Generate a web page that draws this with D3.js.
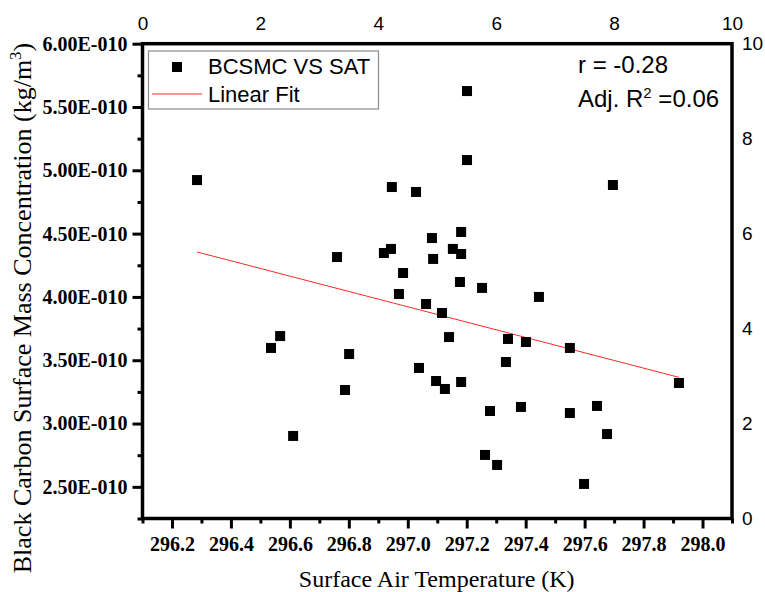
<!DOCTYPE html>
<html>
<head>
<meta charset="utf-8">
<script src="https://cdn.jsdelivr.net/npm/d3@7"></script>
<style>
  body { margin: 0; background: #fff; }
  svg { display: block; }
</style>
</head>
<body>
<div id="chart"></div>
<script>
// surface air temperature (K), one per point
const satValues = [296.285, 296.760, 296.567, 296.536, 296.801, 296.787, 296.611, 297.201, 297.201, 296.946,
    297.028, 297.181, 297.082, 296.943, 296.919, 297.153, 297.181, 297.086, 296.984, 297.177,
    296.970, 297.252, 297.062, 297.445, 297.116, 297.140, 297.038, 297.096, 297.126, 297.181,
    297.340, 297.401, 297.550, 297.333, 297.279, 297.384, 297.550, 297.262, 297.303, 297.696,
    297.920, 297.642, 297.676, 297.598];
// black carbon surface mass concentration (kg/m3)
const bcsmcValues = [4.923e-10, 4.315e-10, 3.691e-10, 3.597e-10, 3.549e-10, 3.265e-10, 2.902e-10, 5.626e-10, 5.081e-10, 4.868e-10,
    4.829e-10, 4.513e-10, 4.465e-10, 4.379e-10, 4.347e-10, 4.379e-10, 4.339e-10, 4.300e-10, 4.189e-10, 4.118e-10,
    4.023e-10, 4.071e-10, 3.944e-10, 4.000e-10, 3.873e-10, 3.683e-10, 3.439e-10, 3.336e-10, 3.273e-10, 3.328e-10,
    3.668e-10, 3.644e-10, 3.597e-10, 3.486e-10, 3.099e-10, 3.131e-10, 3.083e-10, 2.752e-10, 2.673e-10, 4.884e-10,
    3.320e-10, 3.139e-10, 2.917e-10, 2.523e-10];

// linear fit end points
const fitSat = [296.285, 297.920];
const fitBcsmc = [4.355e-10, 3.365e-10];

// tick values
const xMajorTicks = [296.2, 296.4, 296.6, 296.8, 297.0, 297.2, 297.4, 297.6, 297.8, 298.0];
const xMinorTicks = [296.1, 296.3, 296.5, 296.7, 296.9, 297.1, 297.3, 297.5, 297.7, 297.9, 298.1];
const yMajorTicks = [2.5e-10, 3.0e-10, 3.5e-10, 4.0e-10, 4.5e-10, 5.0e-10, 5.5e-10, 6.0e-10];
const yMinorTicks = [2.25e-10, 2.75e-10, 3.25e-10, 3.75e-10, 4.25e-10, 4.75e-10, 5.25e-10, 5.75e-10];
const topTicks = [0, 2, 4, 6, 8, 10];
const rightTicks = [0, 2, 4, 6, 8, 10];

const legendLabels = ['BCSMC VS SAT', 'Linear Fit'];
const statR = 'r = -0.28';
const statAdjR2 = '0.06';

const serif = '"Liberation Serif", "Times New Roman", serif';
const sans = '"Liberation Sans", Arial, sans-serif';

const width = 765, height = 592;
const plot = { left: 142.5, right: 732, top: 43.7, bottom: 518.5 };

const svg = d3.select('#chart')
    .append('svg')
    .attr('width', width)
    .attr('height', height);

const x = d3.scaleLinear().domain([296.1, 298.1]).range([plot.left, plot.right]);
const y = d3.scaleLinear().domain([2.25e-10, 6.0e-10]).range([plot.bottom, plot.top]);
const xTop = d3.scaleLinear().domain([0, 10]).range([plot.left, plot.right]);
const yRight = d3.scaleLinear().domain([0, 10]).range([plot.bottom, plot.top]);

const fmtY = d => (d * 1e10).toFixed(2) + 'E-010';

function styleAxis(g, font, size, weight, lw) {
    g.select('.domain').remove();
    g.selectAll('.tick line').attr('stroke', '#000').attr('stroke-width', lw);
    g.selectAll('.tick text')
        .attr('fill', '#000')
        .style('font-family', font)
        .style('font-size', size + 'px')
        .style('font-weight', weight);
}

// left axis
svg.append('g')
    .attr('transform', `translate(${plot.left},0)`)
    .call(d3.axisLeft(y).tickValues(yMinorTicks).tickSize(5).tickFormat(''))
    .call(g => styleAxis(g, serif, 20, 'bold', 3));
svg.append('g')
    .attr('transform', `translate(${plot.left},0)`)
    .call(d3.axisLeft(y).tickValues(yMajorTicks).tickSize(10).tickPadding(5).tickFormat(fmtY))
    .call(g => styleAxis(g, serif, 20, 'bold', 3));

// bottom axis
svg.append('g')
    .attr('transform', `translate(0,${plot.bottom})`)
    .call(d3.axisBottom(x).tickValues(xMinorTicks).tickSize(5).tickFormat(''))
    .call(g => styleAxis(g, serif, 20, 'bold', 3));
svg.append('g')
    .attr('transform', `translate(0,${plot.bottom})`)
    .call(d3.axisBottom(x).tickValues(xMajorTicks).tickSize(10).tickFormat(d3.format('.1f')))
    .call(g => styleAxis(g, serif, 20, 'bold', 3))
    .call(g => g.selectAll('.tick text').attr('y', 32.5).attr('dy', null));

// top and right axes: labels only
svg.append('g')
    .attr('transform', `translate(0,${plot.top})`)
    .call(d3.axisTop(xTop).tickValues(topTicks).tickSize(0).tickPadding(14))
    .call(g => styleAxis(g, sans, 19, 'normal', 0));
svg.append('g')
    .attr('transform', `translate(${plot.right},0)`)
    .call(d3.axisRight(yRight).tickValues(rightTicks).tickSize(0).tickPadding(10))
    .call(g => styleAxis(g, sans, 19, 'normal', 0));

// frame
svg.append('rect')
    .attr('x', plot.left)
    .attr('y', plot.top)
    .attr('width', plot.right - plot.left)
    .attr('height', plot.bottom - plot.top)
    .attr('fill', 'none')
    .attr('stroke', '#000')
    .attr('stroke-width', 3.5);

// fit line
svg.append('path')
    .datum(d3.zip(fitSat, fitBcsmc))
    .attr('fill', 'none')
    .attr('stroke', '#ff2a2a')
    .attr('stroke-width', 1)
    .attr('d', d3.line().x(d => x(d[0])).y(d => y(d[1])));

// points
const sq = 10;
svg.append('g')
    .selectAll('rect')
    .data(d3.zip(satValues, bcsmcValues))
    .join('rect')
    .attr('x', d => x(d[0]) - sq / 2)
    .attr('y', d => y(d[1]) - sq / 2)
    .attr('width', sq)
    .attr('height', sq)
    .attr('fill', '#000');

// legend
const legend = svg.append('g');
legend.append('rect')
    .attr('x', 148.5).attr('y', 51)
    .attr('width', 230).attr('height', 58)
    .attr('fill', '#fff')
    .attr('stroke', '#8a8a8a')
    .attr('stroke-width', 1.2);
legend.append('rect')
    .attr('x', 177 - sq / 2).attr('y', 67 - sq / 2)
    .attr('width', sq).attr('height', sq)
    .attr('fill', '#000');
legend.append('line')
    .attr('x1', 152).attr('x2', 202)
    .attr('y1', 94).attr('y2', 94)
    .attr('stroke', '#ff2a2a').attr('stroke-width', 1);
legend.selectAll('text')
    .data(legendLabels)
    .join('text')
    .attr('x', 208)
    .attr('y', (d, i) => 74 + i * 28)
    .style('font-family', sans)
    .style('font-size', '22px')
    .text(d => d);

// statistics
const stats = svg.append('g')
    .style('font-family', sans)
    .style('font-size', '24px');
stats.append('text')
    .attr('x', 578).attr('y', 73)
    .text(statR);
const adj = stats.append('text')
    .attr('x', 578).attr('y', 107);
adj.append('tspan').text('Adj. R');
adj.append('tspan').attr('dy', -9).style('font-size', '15px').text('2');
adj.append('tspan').attr('dy', 9).text(' =' + statAdjR2);

// axis titles
svg.append('text')
    .attr('x', (plot.left + plot.right) / 2 - 0.5)
    .attr('y', 587)
    .attr('text-anchor', 'middle')
    .style('font-family', serif)
    .style('font-size', '24px')
    .text('Surface Air Temperature (K)');

const yTitle = svg.append('text')
    .attr('transform', 'translate(31,308) rotate(-90)')
    .attr('text-anchor', 'middle')
    .style('font-family', serif)
    .style('font-size', '26px');
yTitle.append('tspan').text('Black Carbon Surface Mass Concentration (kg/m');
yTitle.append('tspan').attr('dy', -10).style('font-size', '17px').text('3');
yTitle.append('tspan').attr('dy', 10).text(')');
</script>
</body>
</html>
